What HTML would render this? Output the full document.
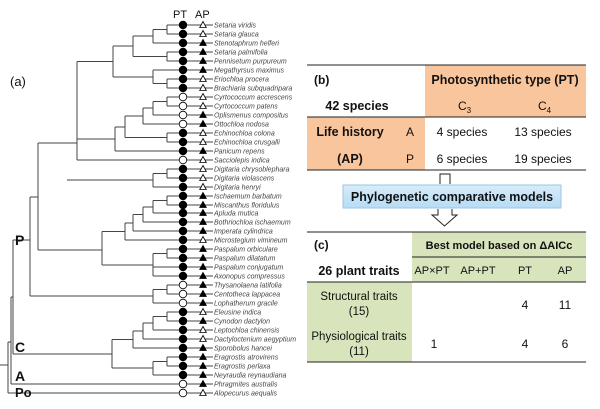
<!DOCTYPE html>
<html><head><meta charset="utf-8"><style>
body{margin:0;background:#fff}
svg{display:block}
.sp{font-family:"Liberation Sans",sans-serif;font-style:italic;font-size:7px;fill:#444}
.t{font-family:"Liberation Sans",sans-serif;font-size:12px;fill:#111}
.b{font-weight:bold}
</style></head><body>
<svg width="600" height="409" viewBox="0 0 600 409" xmlns="http://www.w3.org/2000/svg">
<g stroke="#444" stroke-width="1" fill="none">
<path d="M167 25H183M167 34H183M167 25V34M153 43H183M153 29.5H167M153 29.5V43
M167 52H183M167 61H183M167 52V61M133 36H153M133 56.5H167M133 36V56.5
M167 79H183M167 88H183M167 79V88M153 70H183M153 83.5H167M153 70V83.5
M113 46H133M113 77H153M113 46V77
M167 97H183M167 106H183M167 97V106M153 101.5H167M153 115H183M153 101.5V115
M143 108H153M143 124H183M143 108V124
M167 133H183M167 142H183M167 133V142
M125 116H143M125 137.5H167M125 116V137.5
M115 127H125M115 151H183M115 127V151
M77 61.5H113M77 139H115M77 160H183M77 61.5V160
M167 169H183M167 178H183M167 169V178M153 173.5H167M153 187H183M153 173.5V187M67 180H153
M167 196H183M167 205H183M167 196V205M153 200.5H167M153 213H183M153 200.5V213
M143 207H153M143 222H183M143 207V222M133 214.5H143M133 231H183M133 214.5V231
M125 223H133M125 240H183M125 223V240
M167 249H183M167 258H183M167 249V258M153 253.5H167M153 267H183M153 276H183M153 253.5V276
M102 231.5H125M102 265H153M102 231.5V265
M38 143H77M38 250H102M38 143V250
M167 285H183M167 294H183M167 285V294M153 289.5H167M153 303H183M153 289.5V303
M30 197H38M30 296H153M30 197V296
M167 312H183M167 321H183M167 312V321M153 316.5H167M153 330H183M153 316.5V330
M143 323H153M143 339H183M143 323V339M133 331H143M133 348H183M133 331V348
M167 357H183M167 366H183M167 357V366M153 361.5H167M153 375H183M153 361.5V375
M112 339.5H133M112 368H153M112 339.5V368
M13 240H30M13 354H112M13 240V354
M11 297H13M11 384H183M11 297V384
M8 342H11M8 393H183M8 342V393M0 365H8
M183 25H213M183 34H213M183 43H213M183 52H213M183 61H213M183 70H213M183 79H213M183 88H213M183 97H213M183 106H213M183 115H213M183 124H213M183 133H213M183 142H213M183 151H213M183 160H213M183 169H213M183 178H213M183 187H213M183 196H213M183 205H213M183 213H213M183 222H213M183 231H213M183 240H213M183 249H213M183 258H213M183 267H213M183 276H213M183 285H213M183 294H213M183 303H213M183 312H213M183 321H213M183 330H213M183 339H213M183 348H213M183 357H213M183 366H213M183 375H213M183 384H213M183 393H213"/>
</g>
<g id="marks" stroke="#000" stroke-width="0.8"></g>
<text x="173" y="18" class="t" style="font-size:11px">PT</text>
<text x="195" y="18" class="t" style="font-size:11px">AP</text>
<text x="10" y="86" class="t" style="font-size:13px">(a)</text>
<text x="15" y="245" class="t b" style="font-size:14px">P</text>
<text x="15" y="352" class="t b" style="font-size:14px">C</text>
<text x="15" y="381" class="t b" style="font-size:14px">A</text>
<text x="15" y="397" class="t b" style="font-size:13px">Po</text>
<g class="sp">
<text x="214" y="27.5">Setaria viridis</text><text x="214" y="36.5">Setaria glauca</text><text x="214" y="45.5">Stenotaphrum helferi</text><text x="214" y="54.5">Setaria palmifolia</text><text x="214" y="63.5">Pennisetum purpureum</text><text x="214" y="72.5">Megathyrsus maximus</text><text x="214" y="81.5">Eriochloa procera</text><text x="214" y="90.5">Brachiaria subquadripara</text><text x="214" y="99.5">Cyrtococcum accrescens</text><text x="214" y="108.5">Cyrtococcum patens</text><text x="214" y="117.5">Oplismenus compositus</text><text x="214" y="126.5">Ottochloa nodosa</text><text x="214" y="135.5">Echinochloa colona</text><text x="214" y="144.5">Echinochloa crusgalli</text><text x="214" y="153.5">Panicum repens</text><text x="214" y="162.5">Sacciolepis indica</text><text x="214" y="171.5">Digitaria chrysoblephara</text><text x="214" y="180.5">Digitaria violascens</text><text x="214" y="189.5">Digitaria henryi</text><text x="214" y="198.5">Ischaemum barbatum</text><text x="214" y="207.5">Miscanthus floridulus</text><text x="214" y="215.5">Apluda mutica</text><text x="214" y="224.5">Bothriochloa ischaemum</text><text x="214" y="233.5">Imperata cylindrica</text><text x="214" y="242.5">Microstegium vimineum</text><text x="214" y="251.5">Paspalum orbiculare</text><text x="214" y="260.5">Paspalum dilatatum</text><text x="214" y="269.5">Paspalum conjugatum</text><text x="214" y="278.5">Axonopus compressus</text><text x="214" y="287.5">Thysanolaena latifolia</text><text x="214" y="296.5">Centotheca lappacea</text><text x="214" y="305.5">Lophatherum gracile</text><text x="214" y="314.5">Eleusine indica</text><text x="214" y="323.5">Cynodon dactylon</text><text x="214" y="332.5">Leptochloa chinensis</text><text x="214" y="341.5">Dactyloctenium aegyptium</text><text x="214" y="350.5">Sporobolus hancei</text><text x="214" y="359.5">Eragrostis atrovirens</text><text x="214" y="368.5">Eragrostis perlaxa</text><text x="214" y="377.5">Neyraudia reynaudiana</text><text x="214" y="386.5">Phragmites australis</text><text x="214" y="395.5">Alopecurus aequalis</text>
</g>
<g stroke="#000" stroke-width="0.8">
<!-- circles: f=filled -->
<circle cx="183" cy="25" r="3.8" fill="#000"/><circle cx="183" cy="34" r="3.8" fill="#000"/><circle cx="183" cy="43" r="3.8" fill="#000"/><circle cx="183" cy="52" r="3.8" fill="#000"/><circle cx="183" cy="61" r="3.8" fill="#000"/><circle cx="183" cy="70" r="3.8" fill="#000"/><circle cx="183" cy="79" r="3.8" fill="#000"/><circle cx="183" cy="88" r="3.8" fill="#000"/>
<circle cx="183" cy="97" r="3.8" fill="#fff"/><circle cx="183" cy="106" r="3.8" fill="#fff"/><circle cx="183" cy="115" r="3.8" fill="#fff"/><circle cx="183" cy="124" r="3.8" fill="#fff"/>
<circle cx="183" cy="133" r="3.8" fill="#000"/><circle cx="183" cy="142" r="3.8" fill="#000"/><circle cx="183" cy="151" r="3.8" fill="#000"/><circle cx="183" cy="160" r="3.8" fill="#fff"/>
<circle cx="183" cy="169" r="3.8" fill="#000"/><circle cx="183" cy="178" r="3.8" fill="#000"/><circle cx="183" cy="187" r="3.8" fill="#000"/><circle cx="183" cy="196" r="3.8" fill="#000"/><circle cx="183" cy="205" r="3.8" fill="#000"/><circle cx="183" cy="213" r="3.8" fill="#000"/><circle cx="183" cy="222" r="3.8" fill="#000"/><circle cx="183" cy="231" r="3.8" fill="#000"/><circle cx="183" cy="240" r="3.8" fill="#000"/><circle cx="183" cy="249" r="3.8" fill="#000"/><circle cx="183" cy="258" r="3.8" fill="#000"/><circle cx="183" cy="267" r="3.8" fill="#000"/><circle cx="183" cy="276" r="3.8" fill="#000"/>
<circle cx="183" cy="285" r="3.8" fill="#fff"/><circle cx="183" cy="294" r="3.8" fill="#fff"/><circle cx="183" cy="303" r="3.8" fill="#fff"/>
<circle cx="183" cy="312" r="3.8" fill="#000"/><circle cx="183" cy="321" r="3.8" fill="#000"/><circle cx="183" cy="330" r="3.8" fill="#000"/><circle cx="183" cy="339" r="3.8" fill="#000"/><circle cx="183" cy="348" r="3.8" fill="#000"/><circle cx="183" cy="357" r="3.8" fill="#000"/><circle cx="183" cy="366" r="3.8" fill="#000"/><circle cx="183" cy="375" r="3.8" fill="#000"/>
<circle cx="183" cy="384" r="3.8" fill="#fff"/><circle cx="183" cy="393" r="3.8" fill="#fff"/>
</g>
<g stroke="#000" stroke-width="0.8">
<path fill="#fff" d="M203 21.5l3.3 6h-6.6zM203 30.5l3.3 6h-6.6zM203 75.5l3.3 6h-6.6zM203 84.5l3.3 6h-6.6zM203 93.5l3.3 6h-6.6zM203 102.5l3.3 6h-6.6zM203 129.5l3.3 6h-6.6zM203 138.5l3.3 6h-6.6zM203 156.5l3.3 6h-6.6zM203 165.5l3.3 6h-6.6zM203 174.5l3.3 6h-6.6zM203 183.5l3.3 6h-6.6zM203 236.5l3.3 6h-6.6zM203 308.5l3.3 6h-6.6zM203 326.5l3.3 6h-6.6zM203 335.5l3.3 6h-6.6zM203 389.5l3.3 6h-6.6z"/>
<path fill="#000" d="M203 39.5l3.3 6h-6.6zM203 48.5l3.3 6h-6.6zM203 57.5l3.3 6h-6.6zM203 66.5l3.3 6h-6.6zM203 111.5l3.3 6h-6.6zM203 120.5l3.3 6h-6.6zM203 147.5l3.3 6h-6.6zM203 192.5l3.3 6h-6.6zM203 201.5l3.3 6h-6.6zM203 209.5l3.3 6h-6.6zM203 218.5l3.3 6h-6.6zM203 227.5l3.3 6h-6.6zM203 245.5l3.3 6h-6.6zM203 254.5l3.3 6h-6.6zM203 263.5l3.3 6h-6.6zM203 272.5l3.3 6h-6.6zM203 281.5l3.3 6h-6.6zM203 290.5l3.3 6h-6.6zM203 299.5l3.3 6h-6.6zM203 317.5l3.3 6h-6.6zM203 344.5l3.3 6h-6.6zM203 353.5l3.3 6h-6.6zM203 362.5l3.3 6h-6.6zM203 371.5l3.3 6h-6.6zM203 380.5l3.3 6h-6.6z"/>
</g>

<!-- table b -->
<rect x="425" y="65" width="161" height="52" fill="#f9c59c"/>
<rect x="307" y="117" width="118" height="53" fill="#f9c59c"/>
<g stroke="#222" stroke-width="1">
<line x1="307" y1="65" x2="586" y2="65"/><line x1="307" y1="117" x2="586" y2="117"/><line x1="307" y1="170" x2="586" y2="170"/>
</g>
<text x="314" y="84" class="t b" style="font-size:12px">(b)</text>
<text x="505" y="84" class="t b" text-anchor="middle" style="font-size:12.5px">Photosynthetic type (PT)</text>
<text x="357" y="110" class="t b" text-anchor="middle" style="font-size:12.5px">42 species</text>
<text x="458" y="110" class="t">C<tspan font-size="8" dy="3">3</tspan></text>
<text x="538" y="110" class="t">C<tspan font-size="8" dy="3">4</tspan></text>
<text x="350" y="136" class="t b" text-anchor="middle" style="font-size:12.5px">Life history</text>
<text x="406" y="136" class="t">A</text>
<text x="462" y="136" class="t" text-anchor="middle">4 species</text>
<text x="543" y="136" class="t" text-anchor="middle">13 species</text>
<text x="350" y="163" class="t b" text-anchor="middle" style="font-size:12.5px">(AP)</text>
<text x="406" y="163" class="t">P</text>
<text x="462" y="163" class="t" text-anchor="middle">6 species</text>
<text x="543" y="163" class="t" text-anchor="middle">19 species</text>

<!-- arrow and box -->
<path d="M440 184V174H450V184" fill="#fff" stroke="#222" stroke-width="1"/>
<defs><linearGradient id="g" x1="0" y1="0" x2="0" y2="1"><stop offset="0" stop-color="#d6ecfb"/><stop offset="1" stop-color="#b6dcf5"/></linearGradient></defs>
<rect x="343" y="185" width="218" height="23" fill="url(#g)" stroke="#9cc5e6"/>
<text x="452" y="201" class="t b" text-anchor="middle" style="font-size:12.5px">Phylogenetic comparative models</text>
<path d="M438 209V215H432L444.5 226L457 215H452V209" fill="#fff" stroke="#222" stroke-width="1"/>

<!-- table c -->
<rect x="412" y="232" width="174" height="50" fill="#d8e4bc"/>
<rect x="307" y="282" width="105" height="80" fill="#d8e4bc"/>
<g stroke="#222" stroke-width="1">
<line x1="307" y1="232" x2="586" y2="232"/><line x1="412" y1="257" x2="586" y2="257"/><line x1="307" y1="282" x2="586" y2="282"/><line x1="307" y1="362" x2="586" y2="362"/>
</g>
<text x="314" y="249" class="t b" style="font-size:12px">(c)</text>
<text x="499" y="249" class="t b" text-anchor="middle" style="font-size:11px">Best model based on ΔAICc</text>
<text x="359" y="275" class="t b" text-anchor="middle" style="font-size:12.5px">26 plant traits</text>
<text x="432" y="274" class="t" text-anchor="middle" style="font-size:11px">AP×PT</text>
<text x="478" y="274" class="t" text-anchor="middle" style="font-size:11px">AP+PT</text>
<text x="525" y="274" class="t" text-anchor="middle" style="font-size:11px">PT</text>
<text x="565" y="274" class="t" text-anchor="middle" style="font-size:11px">AP</text>
<text x="359" y="300" class="t" text-anchor="middle" style="font-size:11.5px">Structural traits</text>
<text x="359" y="315" class="t" text-anchor="middle" style="font-size:11.5px">(15)</text>
<text x="525" y="309" class="t" text-anchor="middle">4</text>
<text x="565" y="309" class="t" text-anchor="middle">11</text>
<text x="359" y="340" class="t" text-anchor="middle" style="font-size:11.5px">Physiological traits</text>
<text x="359" y="355" class="t" text-anchor="middle" style="font-size:11.5px">(11)</text>
<text x="434" y="348" class="t" text-anchor="middle">1</text>
<text x="525" y="348" class="t" text-anchor="middle">4</text>
<text x="565" y="348" class="t" text-anchor="middle">6</text>
</svg>
</body></html>
